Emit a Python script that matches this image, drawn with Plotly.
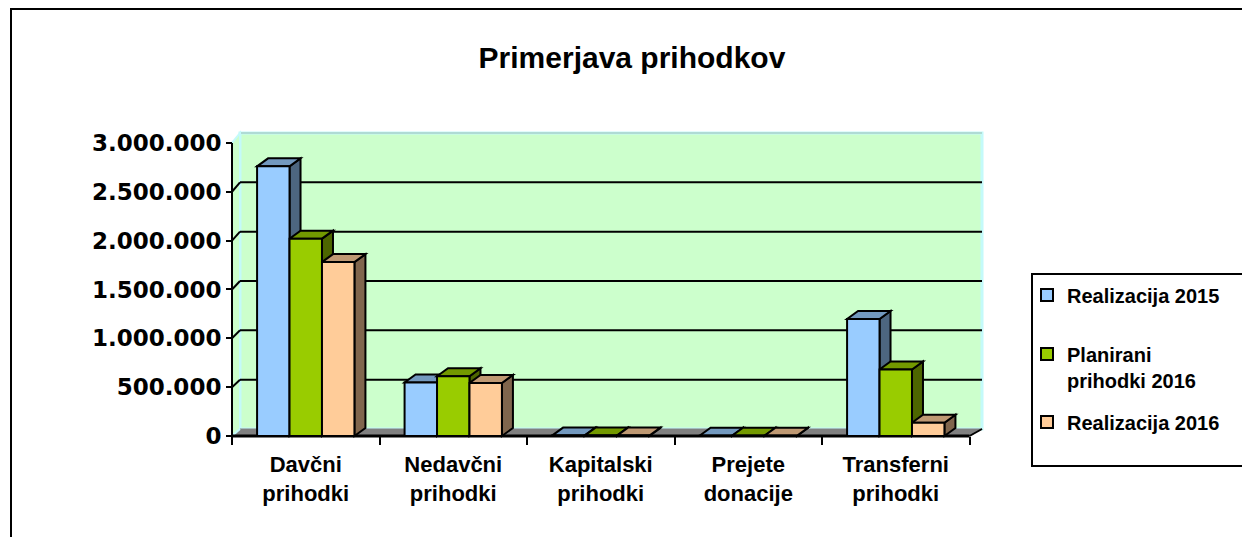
import plotly.graph_objects as go

# ---------------- data ----------------
categories = ["Davčni<br>prihodki", "Nedavčni<br>prihodki", "Kapitalski<br>prihodki",
              "Prejete<br>donacije", "Transferni<br>prihodki"]
series_names = ["Realizacija 2015", "Planirani<br>prihodki 2016", "Realizacija 2016"]
realizacija_2015 = [2760000, 547000, 4000, 3000, 1198000]
planirani_2016 = [2020000, 611000, 4000, 3000, 680000]
realizacija_2016 = [1780000, 543000, 4000, 3000, 136000]
y_tick_values = [0, 500000, 1000000, 1500000, 2000000, 2500000, 3000000]
title_text = "Primerjava prihodkov"

series_values = [realizacija_2015, planirani_2016, realizacija_2016]
front_colors = ["#99CCFF", "#99CC00", "#FFCC99"]
top_colors = ["#7399BF", "#739900", "#BF9973"]
side_colors = ["#4D6680", "#4D6600", "#80664D"]
legend_ids = ["legend", "legend2", "legend3"]

# ---------------- geometry (pixels of the 1242x537 canvas) ----------------
W, H = 1242, 537
X0_PX = 232.0      # front-left corner of floor (category boundary -0.5)
CAT_PX = 147.5     # pixel width of one category
Y0_PX = 436.0      # front floor line (value 0)
MPX = 97.7         # pixels per 1,000,000

def px_x(px):
    return (px - X0_PX) / CAT_PX - 0.5

def px_y(py):
    return (Y0_PX - py) / MPX * 1e6

ncat = len(categories)
xs = list(range(ncat))
BAR_W = 0.22
BAR_DX = 11 / CAT_PX
BAR_DY = 8 / MPX * 1e6
WALL_DY = 7 / MPX * 1e6
BACK_SCALE = 1.01
back_left = px_x(240)
back_right = px_x(982)
front_left = -0.5
front_right = ncat - 0.5
y_top = max(y_tick_values)
back_top = y_top * BACK_SCALE + WALL_DY

shapes = []

def path_shape(pts, fill, line_color="black", lw=2, xref="x", yref="y"):
    p = "M " + " L ".join(f"{a:.5f},{b:.2f}" for a, b in pts) + " Z"
    return dict(type="path", path=p, xref=xref, yref=yref, fillcolor=fill,
                line=dict(color=line_color, width=lw), layer="below")

def line_shape(x0, y0, x1, y1, color="black", lw=2):
    return dict(type="line", x0=x0, y0=y0, x1=x1, y1=y1, xref="x", yref="y",
                line=dict(color=color, width=lw), layer="below")

# outer chart frame
shapes.append(dict(type="rect", xref="paper", yref="paper", x0=11 / W, y0=-0.1, x1=1.1,
                   y1=1 - 9 / H, line=dict(color="black", width=2),
                   fillcolor="rgba(0,0,0,0)", layer="below"))
# legend box
shapes.append(dict(type="rect", xref="paper", yref="paper", x0=1032 / W, y0=1 - 466 / H,
                   x1=1.1, y1=1 - 274 / H, line=dict(color="black", width=2),
                   fillcolor="white", layer="below"))

wall_fill = "#CCFFCC"
wall_edge = "#C4FAFA"
# back wall
shapes.append(path_shape([(back_left, WALL_DY), (back_right, WALL_DY),
                          (back_right, back_top), (back_left, back_top)],
                         wall_fill, wall_edge, 3))
shapes.append(line_shape(back_left, back_top, back_right, back_top, "#A8D0C8", 1.5))
# left side wall
shapes.append(path_shape([(front_left, 0), (front_left, y_top),
                          (back_left, back_top), (back_left, WALL_DY)],
                         wall_fill, wall_edge, 2))
# gridlines (back wall and side wall)
for v in y_tick_values[1:-1]:
    yb = v * BACK_SCALE + WALL_DY
    shapes.append(line_shape(back_left, yb, back_right, yb, "black", 2))
    shapes.append(line_shape(front_left, v, back_left, yb, "black", 2))
# floor
shapes.append(path_shape([(front_left, 0), (front_right, 0),
                          (back_right, WALL_DY), (back_left, WALL_DY)],
                         "#808080", "#808080", 1))
shapes.append(line_shape(front_right, 0, back_right, WALL_DY, "black", 2))
shapes.append(line_shape(front_left, 0, back_left, WALL_DY, wall_edge, 2))

# 3-D faces of the columns (side + top), left to right
for j in xs:
    for i, vals in enumerate(series_values):
        v = vals[j]
        left = j - 1.5 * BAR_W + i * BAR_W
        right = left + BAR_W
        shapes.append(path_shape([(right, 0), (right + BAR_DX, BAR_DY),
                                  (right + BAR_DX, v + BAR_DY), (right, v)],
                                 side_colors[i]))
        shapes.append(path_shape([(left, v), (right, v),
                                  (right + BAR_DX, v + BAR_DY), (left + BAR_DX, v + BAR_DY)],
                                 top_colors[i]))

# front floor line and y axis line
shapes.append(line_shape(front_left, 0, front_right, 0, "black", 3))
shapes.append(line_shape(front_left, 0, front_left, y_top, "black", 2))

fig = go.Figure()
for i, vals in enumerate(series_values):
    fig.add_trace(go.Bar(
        x=xs, y=vals, name=series_names[i],
        width=BAR_W, offset=-1.5 * BAR_W + i * BAR_W,
        marker=dict(color=front_colors[i], line=dict(color="black", width=2)),
        legend=legend_ids[i], showlegend=True, hoverinfo="skip",
    ))

bold_arial = dict(family="Liberation Sans, Arial", color="black", weight="bold")

legend_common = dict(xanchor="left", bgcolor="rgba(0,0,0,0)", borderwidth=0,
                     font=dict(size=20, **bold_arial), valign="top",
                     itemclick=False, itemdoubleclick=False, visible=True)

fig.update_layout(
    width=W, height=H, autosize=False,
    margin=dict(l=0, r=0, t=0, b=0),
    paper_bgcolor="white", plot_bgcolor="rgba(0,0,0,0)",
    separators=",.",
    barmode="overlay",
    showlegend=True,
    title=dict(text=title_text, x=632 / W, xanchor="center", y=1 - 57 / H,
               yanchor="middle", font=dict(size=30, **bold_arial)),
    xaxis=dict(
        domain=[220 / W, 1000 / W], range=[px_x(220), px_x(1000)],
        anchor="free", position=1 - Y0_PX / H,
        tickmode="array", tickvals=xs, ticktext=categories,
        ticks="", showline=False, showgrid=False, zeroline=False,
        ticklabelstandoff=13,
        tickfont=dict(size=22, **bold_arial),
        minor=dict(tickmode="array", tickvals=[k - 0.5 for k in range(ncat + 1)],
                   ticks="outside", ticklen=8, tickwidth=2, tickcolor="black",
                   showgrid=False),
        fixedrange=True,
    ),
    yaxis=dict(
        domain=[1 - 452 / H, 1 - 125 / H], range=[px_y(452), px_y(125)],
        anchor="free", position=X0_PX / W,
        tickmode="array", tickvals=y_tick_values, tickformat=",.0f",
        ticks="outside", ticklen=6, tickwidth=2, tickcolor="black",
        showline=False, showgrid=False, zeroline=False,
        tickfont=dict(size=23, family="DejaVu Sans", color="black", weight="bold"),
        fixedrange=True,
    ),
    shapes=shapes,
    legend=dict(x=1027 / W, y=1 - 295 / H, yanchor="middle", **legend_common),
    legend2=dict(x=1027 / W, y=1 - 367 / H, yanchor="middle", **legend_common),
    legend3=dict(x=1027 / W, y=1 - 422 / H, yanchor="middle", **legend_common),
)

fig.write_html(
    "out.html",
    config={"displayModeBar": False},
    post_script="document.body.style.margin='0px';document.body.style.overflow='hidden';",
)
